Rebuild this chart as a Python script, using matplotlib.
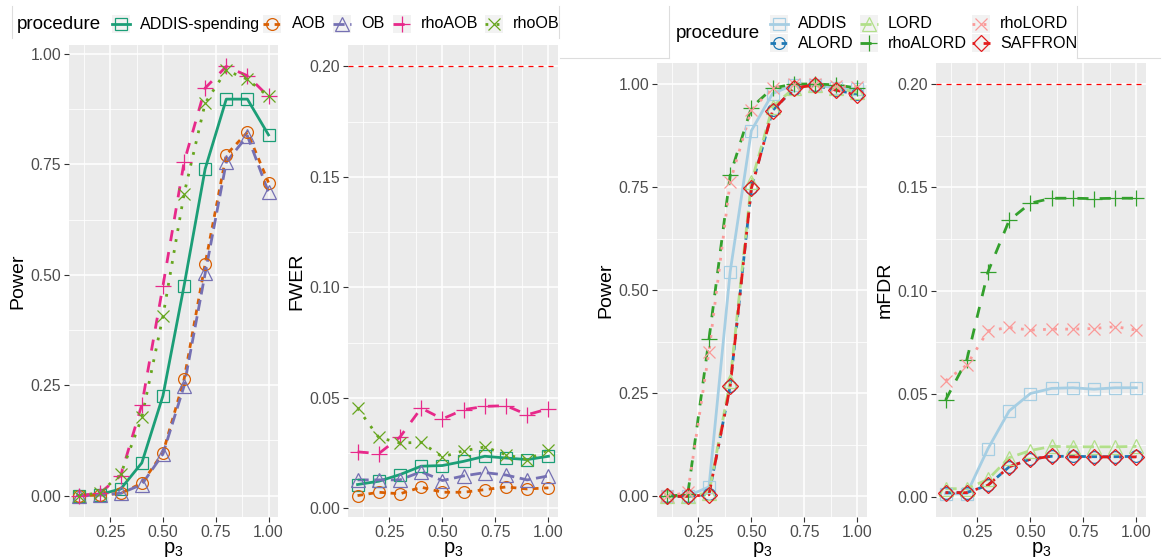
import matplotlib
matplotlib.use('Agg')
import matplotlib.pyplot as plt
from matplotlib.patches import Rectangle

plt.rcParams['font.family'] = ['Liberation Sans', 'DejaVu Sans']
plt.rcParams['mathtext.fontset'] = 'custom'
plt.rcParams['mathtext.rm'] = 'Liberation Sans'
plt.rcParams['mathtext.it'] = 'Liberation Sans'

# ---------------- data ----------------
p3 = [0.1, 0.2, 0.3, 0.4, 0.5, 0.6, 0.7, 0.8, 0.9, 1.0]

left_procs = ['ADDIS-spending', 'AOB', 'OB', 'rhoAOB', 'rhoOB']
pow_addis_spending = [0.000, 0.002, 0.015, 0.074, 0.226, 0.475, 0.740, 0.898, 0.898, 0.817]
pow_aob = [0.000, 0.001, 0.005, 0.028, 0.097, 0.263, 0.525, 0.772, 0.823, 0.709]
pow_ob = [0.000, 0.001, 0.005, 0.025, 0.094, 0.248, 0.503, 0.755, 0.815, 0.687]
pow_rhoaob = [0.000, 0.005, 0.045, 0.206, 0.475, 0.755, 0.923, 0.972, 0.951, 0.904]
pow_rhoob = [0.000, 0.006, 0.048, 0.177, 0.406, 0.683, 0.889, 0.963, 0.943, 0.904]

fwer_addis_spending = [0.0107, 0.0122, 0.0152, 0.0190, 0.0193, 0.0212, 0.0235, 0.0227, 0.0220, 0.0235]
fwer_aob = [0.0057, 0.0072, 0.0065, 0.0095, 0.0072, 0.0072, 0.0084, 0.0096, 0.0087, 0.0092]
fwer_ob = [0.0128, 0.0128, 0.0128, 0.0165, 0.0125, 0.0146, 0.0161, 0.0150, 0.0128, 0.0146]
fwer_rhoaob = [0.0255, 0.0247, 0.0322, 0.0453, 0.0404, 0.0446, 0.0461, 0.0464, 0.0423, 0.0450]
fwer_rhoob = [0.0453, 0.0320, 0.0295, 0.0298, 0.0232, 0.0260, 0.0277, 0.0242, 0.0220, 0.0265]

right_procs = ['ADDIS', 'ALORD', 'LORD', 'rhoALORD', 'rhoLORD', 'SAFFRON']
pow_addis = [0.000, 0.001, 0.023, 0.545, 0.887, 0.977, 0.998, 0.998, 0.990, 0.988]
pow_alord = [0.000, 0.000, 0.005, 0.268, 0.748, 0.936, 0.988, 0.997, 0.985, 0.975]
pow_lord = [0.000, 0.002, 0.008, 0.280, 0.762, 0.945, 0.990, 0.997, 0.990, 0.980]
pow_rhoalord = [0.000, 0.005, 0.381, 0.779, 0.943, 0.990, 1.000, 1.000, 0.998, 0.990]
pow_rholord = [0.000, 0.010, 0.351, 0.763, 0.937, 0.990, 0.999, 0.999, 0.995, 0.993]
pow_saffron = [0.000, 0.000, 0.004, 0.267, 0.747, 0.935, 0.990, 0.998, 0.985, 0.973]

fdr_addis = [0.0016, 0.0016, 0.0234, 0.0417, 0.0501, 0.0526, 0.0529, 0.0522, 0.0529, 0.0529]
fdr_alord = [0.0021, 0.0021, 0.0057, 0.0146, 0.0183, 0.0197, 0.0197, 0.0195, 0.0195, 0.0197]
fdr_lord = [0.0040, 0.0040, 0.0085, 0.0190, 0.0225, 0.0245, 0.0243, 0.0243, 0.0243, 0.0245]
fdr_rhoalord = [0.0469, 0.0663, 0.1090, 0.1340, 0.1423, 0.1447, 0.1447, 0.1445, 0.1447, 0.1447]
fdr_rholord = [0.0563, 0.0639, 0.0805, 0.0821, 0.0808, 0.0813, 0.0813, 0.0816, 0.0825, 0.0808]
fdr_saffron = [0.0021, 0.0021, 0.0057, 0.0146, 0.0183, 0.0197, 0.0194, 0.0194, 0.0194, 0.0194]

alpha_level = 0.2

# ---------------- styles ----------------
left_style = {
    'ADDIS-spending': dict(color='#1B9E77', dashes=None, marker='s', ms=8),
    'AOB': dict(color='#D95F02', dashes=(2, 2), marker='o', ms=8.5),
    'OB': dict(color='#7570B3', dashes=(4, 2), marker='^', ms=9.5),
    'rhoAOB': dict(color='#E7298A', dashes=(4, 4), marker='+', ms=12),
    'rhoOB': dict(color='#66A61E', dashes=(1, 3), marker='x', ms=8.5),
}
right_style = {
    'ADDIS': dict(color='#A6CEE3', dashes=None, marker='s', ms=8),
    'ALORD': dict(color='#1F78B4', dashes=(2, 2), marker='o', ms=8.5),
    'LORD': dict(color='#B2DF8A', dashes=(4, 2), marker='^', ms=9.5),
    'rhoALORD': dict(color='#33A02C', dashes=(4, 4), marker='+', ms=12),
    'rhoLORD': dict(color='#FB9A99', dashes=(1, 3), marker='x', ms=8.5),
    'SAFFRON': dict(color='#E31A1C', dashes=(1, 3, 4, 3), marker='D', ms=8.5),
}

W, H = 1164, 559
fig = plt.figure(figsize=(W / 100, H / 100), dpi=100)
LW = 2.0


def rect(x0, x1, y0, y1):
    return [x0 / W, 1 - y1 / H, (x1 - x0) / W, (y1 - y0) / H]


def panel(r, ylim, yticks, yminor, ylabel, names, values, styles, threshold=None):
    ax = fig.add_axes(r)
    ax.set_facecolor('#EBEBEB')
    for s in ax.spines.values():
        s.set_visible(False)
    ax.set_xlim(0.055, 1.045)
    ax.set_ylim(*ylim)
    ax.set_xticks([0.25, 0.5, 0.75, 1.0])
    ax.set_xticklabels(['0.25', '0.50', '0.75', '1.00'])
    ax.set_xticks([0.125, 0.375, 0.625, 0.875], minor=True)
    ax.set_yticks(yticks)
    ax.set_yticklabels(['%.2f' % t for t in yticks])
    ax.set_yticks(yminor, minor=True)
    ax.tick_params(which='major', length=3.5, width=0.8, color='#333333',
                   labelcolor='#4D4D4D', labelsize=11.3, pad=2)
    ax.tick_params(which='minor', length=0)
    ax.grid(which='major', color='white', lw=1.1)
    ax.grid(which='minor', color='white', lw=0.55)
    ax.set_axisbelow(True)
    if threshold is not None:
        ax.axhline(threshold, color='red', lw=0.9, dashes=(4, 4), zorder=1.5)
    for n, v in zip(names, values):
        st = styles[n]
        ln, = ax.plot(p3, v, color=st['color'], lw=LW, zorder=2)
        if st['dashes'] is not None:
            ln.set_dashes(st['dashes'])
    for n, v in zip(names, values):
        st = styles[n]
        ax.plot(p3, v, ls='none', marker=st['marker'], ms=st['ms'], mfc='none',
                mec=st['color'], mew=0.9, zorder=3, clip_on=False)
    ax.set_xlabel(r'$\mathrm{p}_3$', fontsize=14.5, labelpad=0)
    ax.set_ylabel(ylabel, fontsize=14, labelpad=3)
    return ax


panel(rect(69, 278, 45, 517), (-0.0486, 1.0206), [0, 0.25, 0.5, 0.75, 1.0],
      [0.125, 0.375, 0.625, 0.875], 'Power', left_procs,
      [pow_addis_spending, pow_aob, pow_ob, pow_rhoaob, pow_rhoob], left_style)
panel(rect(348, 558, 45, 517), (-0.0040, 0.2097), [0, 0.05, 0.10, 0.15, 0.20],
      [0.025, 0.075, 0.125, 0.175], 'FWER', left_procs,
      [fwer_addis_spending, fwer_aob, fwer_ob, fwer_rhoaob, fwer_rhoob], left_style,
      threshold=alpha_level)
panel(rect(657, 867, 63, 517), (-0.050, 1.051), [0, 0.25, 0.5, 0.75, 1.0],
      [0.125, 0.375, 0.625, 0.875], 'Power', right_procs,
      [pow_addis, pow_alord, pow_lord, pow_rhoalord, pow_rholord, pow_saffron], right_style)
panel(rect(936, 1146, 63, 517), (-0.0097, 0.2102), [0, 0.05, 0.10, 0.15, 0.20],
      [0.025, 0.075, 0.125, 0.175], 'mFDR', right_procs,
      [fdr_addis, fdr_alord, fdr_lord, fdr_rhoalord, fdr_rholord, fdr_saffron], right_style,
      threshold=alpha_level)

# ---------------- legends (overlay in pixel coords) ----------------
ov = fig.add_axes([0, 0, 1, 1])
ov.set_xlim(0, W)
ov.set_ylim(H, 0)
ov.axis('off')

border = '#DDDDDD'
for xs, ys in [([12, 12], [6, 38]), ([559, 559], [6, 38]),
               ([560, 669], [58, 58]), ([669, 669], [6, 58]),
               ([1077, 1077], [6, 58]), ([1077, 1160], [58, 58])]:
    ov.plot(xs, ys, color=border, lw=0.8)


def key(cx, cy, st, label, lx):
    ov.add_patch(Rectangle((cx - 9, cy - 9), 18, 18, fc='#F2F2F2', ec='none'))
    ln, = ov.plot([cx - 9, cx + 9], [cy, cy], color=st['color'], lw=LW)
    if st['dashes'] is not None:
        ln.set_dashes(st['dashes'])
    ov.plot([cx], [cy], marker=st['marker'], ms=st['ms'], mfc='none',
            mec=st['color'], mew=0.9)
    ov.text(lx, cy, label, fontsize=11.6, va='center', ha='left', color='black')


ov.text(17, 24.5, 'procedure', fontsize=13.5, va='center', ha='left')
left_keys = [(121, 140), (272, 292), (342, 361), (401.5, 421), (494, 513)]
for n, (cx, lx) in zip(left_procs, left_keys):
    key(cx, 24, left_style[n], n, lx)

ov.text(676, 33, 'procedure', fontsize=13.5, va='center', ha='left')
right_keys = [(779, 24, 798), (779, 43, 798), (868.5, 24, 888), (868.5, 43, 888),
              (981, 24, 1000), (981, 43, 1000)]
for n, (cx, cy, lx) in zip(right_procs, right_keys):
    key(cx, cy, right_style[n], n, lx)

fig.savefig('out.png', dpi=100)
